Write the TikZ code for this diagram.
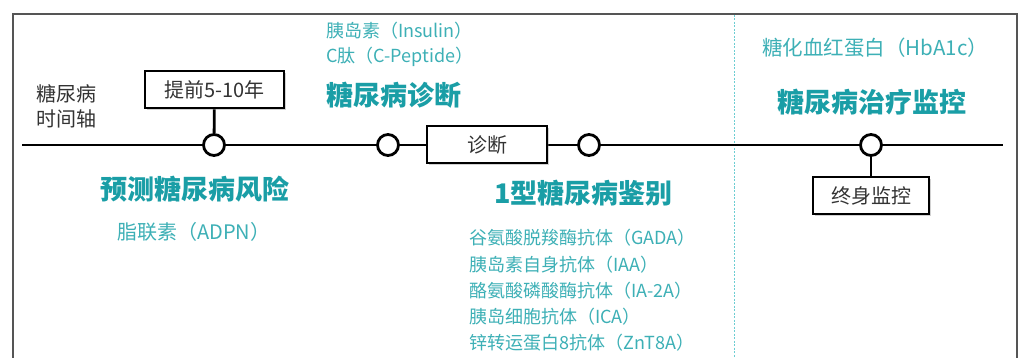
\documentclass[tikz,border=0pt]{standalone}
\usepackage{fontspec}
\setmainfont{Noto Sans CJK SC}
\usetikzlibrary{shadows}
\definecolor{tealB}{HTML}{1A9EA6}
\definecolor{tealL}{HTML}{3DB0B6}
\definecolor{tealD}{HTML}{6CCDD2}
\definecolor{txt}{HTML}{333333}
\definecolor{framec}{HTML}{555555}
\begin{document}
\begin{tikzpicture}[x=1pt,y=-1pt,
 dot/.style={circle,draw=black,fill=white,line width=2.8pt,minimum size=21pt,inner sep=0pt},
 tagbox/.style={draw=black,fill=white,line width=2.8pt,minimum height=37pt,inner sep=0pt,
   font=\fontsize{20}{24}\selectfont,text=txt,
   drop shadow={shadow xshift=2pt,shadow yshift=-2pt,opacity=0.35}},
 head/.style={anchor=west,inner sep=0pt,font=\fontsize{27}{31}\selectfont\bfseries,text=tealB},
 note/.style={anchor=west,inner sep=0pt,font=\fontsize{18}{22}\selectfont,text=tealL},
 axislabel/.style={anchor=west,inner sep=0pt,align=left,font=\fontsize{20}{25}\selectfont,text=txt},
 tline/.style={line width=2.8pt}]
\useasboundingbox (0,0) rectangle (1019,358);
\fill[white] (0,0) rectangle (1019,358);
% frame
\draw[framec,line width=2pt] (13,358) -- (13,14) -- (1017,14) -- (1017,358);
% dashed separator
\draw[tealD,line width=0.9pt,dash pattern=on 2pt off 1.5pt] (734,15) -- (734,358);
% timeline
\coordinate (tls) at (22,145);
\coordinate (tle) at (1003,145);
\draw[tline] (tls) -- (tle);
% boxes
\node[tagbox,minimum width=139pt] (b1) at (214.5,89.5) {提前5-10年};
\node[tagbox,minimum width=120pt] (b2) at (487,144.5) {诊断};
\node[tagbox,minimum width=116pt] (b3) at (871,195.5) {终身监控};
% dots
\node[dot] (d1) at (214,145) {};
\node[dot] (d2) at (388,145) {};
\node[dot] (d3) at (589,145) {};
\node[dot] (d4) at (871,145) {};
\draw[tline] (b1) -- (d1);
\draw[tline] (d4) -- (b3);
% axis label
\node[axislabel] (axl) at (36,106) {糖尿病\\时间轴};
% headings
\node[head] (h1) at (100,189) {预测糖尿病风险};
\node[head] (h2) at (326,95) {糖尿病诊断};
\node[head] (h3) at (494,193) {1型糖尿病鉴别};
\node[head] (h4) at (777,102) {糖尿病治疗监控};
% notes
\node[note,font=\fontsize{20}{24}\selectfont] (n1) at (117,232) {脂联素（ADPN）};
\node[note] (n2) at (326,31) {胰岛素（Insulin）};
\node[note] (n3) at (326,57) {C肽（C-Peptide）};
\node[note,font=\fontsize{20.5}{24}\selectfont] (n4) at (762,48) {糖化血红蛋白（HbA1c）};
\node[note] (l1) at (469,238) {谷氨酸脱羧酶抗体（GADA）};
\node[note] (l2) at (469,265) {胰岛素自身抗体（IAA）};
\node[note] (l3) at (469,291) {酪氨酸磷酸酶抗体（IA-2A）};
\node[note] (l4) at (469,317) {胰岛细胞抗体（ICA）};
\node[note] (l5) at (469,343) {锌转运蛋白8抗体（ZnT8A）};
\end{tikzpicture}
\end{document}
